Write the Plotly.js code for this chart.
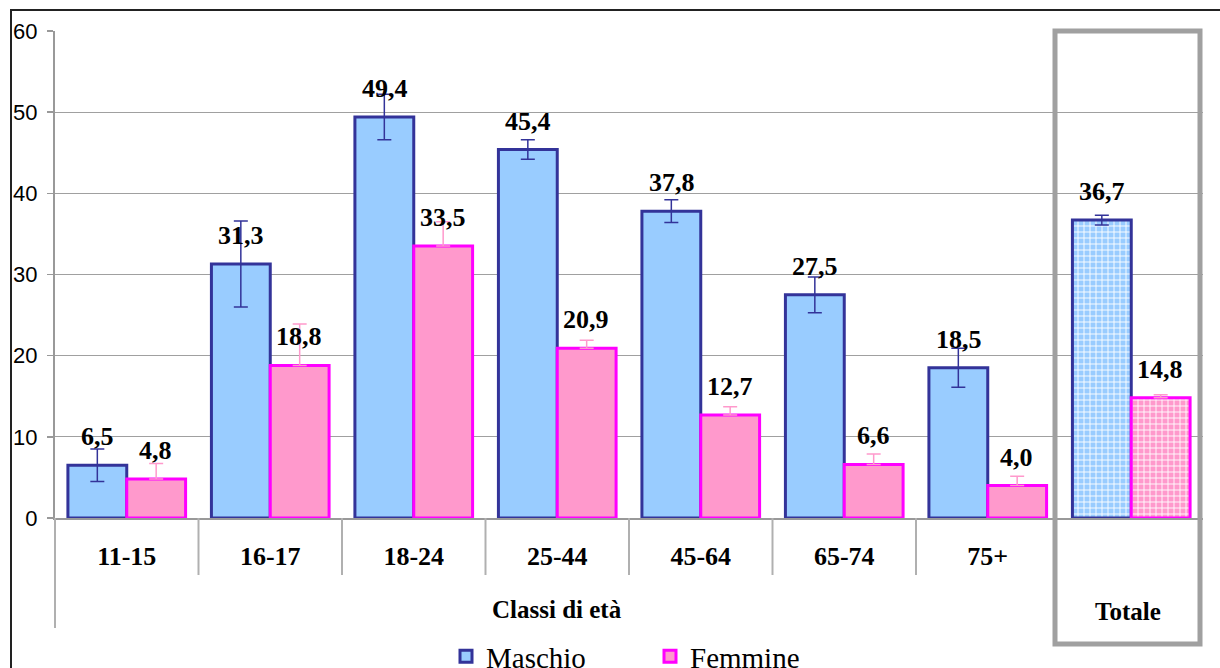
<!DOCTYPE html>
<html>
<head>
<meta charset="utf-8">
<script src="https://cdn.plot.ly/plotly-3.0.1.min.js"></script>
<style>html,body{margin:0;padding:0;background:#fff;}#chart{width:1220px;height:668px;}</style>
</head>
<body>
<div id="chart"></div>
<script>
const categories = ["11-15", "16-17", "18-24", "25-44", "45-64", "65-74", "75+", "Totale"];
const tickLabels = ["11-15", "16-17", "18-24", "25-44", "45-64", "65-74", "75+", ""];
const maschio = [6.5, 31.3, 49.4, 45.4, 37.8, 27.5, 18.5, 36.7];
const femmine = [4.8, 18.8, 33.5, 20.9, 12.7, 6.6, 4.0, 14.8];
const maschioErr = [2.0, 5.3, 2.8, 1.2, 1.4, 2.2, 2.4, 0.6];
const femmineErrUp = [1.9, 5.1, 3.0, 1.0, 1.0, 1.3, 1.15, 0.4];
const femmineErrDown = [0, 0, 0, 0, 0, 0, 0, 0];
const yTicks = [0, 10, 20, 30, 40, 50, 60];

const serif = "Liberation Serif, Times New Roman, serif";
const sans = "Liberation Sans, Arial, sans-serif";

function patternShapes(arr) { return arr.map((_, i) => categories[i] === "Totale" ? "+" : ""); }

const traceM = {
  type: "bar", name: "Maschio", x: categories, y: maschio,
  marker: {
    color: "#99ccff",
    line: {color: "#333399", width: 3},
    pattern: {shape: patternShapes(maschio), fgcolor: "#ffffff", bgcolor: "#99ccff", size: 6, solidity: 0.28, fillmode: "replace"}
  },
  error_y: {type: "data", array: maschioErr, visible: true, color: "#333399", thickness: 1.5, width: 7},
  hoverinfo: "skip"
};
const traceF = {
  type: "bar", name: "Femmine", x: categories, y: femmine,
  marker: {
    color: "#ff99cc",
    line: {color: "#ff00ff", width: 3},
    pattern: {shape: patternShapes(femmine), fgcolor: "#ffffff", bgcolor: "#ff99cc", size: 6, solidity: 0.28, fillmode: "replace"}
  },
  error_y: {type: "data", symmetric: false, array: femmineErrUp, arrayminus: femmineErrDown, visible: true, color: "#ff99cc", thickness: 1.5, width: 7},
  hoverinfo: "skip"
};

const fmt = v => v.toFixed(1).replace(".", ",");
const annotations = [];
categories.forEach((c, i) => {
  annotations.push({x: c, y: maschio[i], xref: "x", yref: "y", text: "<b>" + fmt(maschio[i]) + "</b>", showarrow: false,
    xshift: -29, yshift: 12, yanchor: "bottom", font: {family: serif, size: 26, color: "#000"}});
  annotations.push({x: c, y: femmine[i], xref: "x", yref: "y", text: "<b>" + fmt(femmine[i]) + "</b>", showarrow: false,
    xshift: 29, yshift: 12, yanchor: "bottom", font: {family: serif, size: 26, color: "#000"}});
});
const plotTop = 31, plotBottom = 518, plotH = plotBottom - plotTop;
const plotLeft = 55, plotRight = 1203, plotW = plotRight - plotLeft;
const py = px => (plotBottom - px) / plotH;
const pxx = px => (px - plotLeft) / plotW;
annotations.push({x: pxx(557), y: py(609), xref: "paper", yref: "paper", xanchor: "center", yanchor: "middle",
  text: "<b>Classi di età</b>", showarrow: false, font: {family: serif, size: 25, color: "#000"}});
annotations.push({x: pxx(1128), y: py(611), xref: "paper", yref: "paper", xanchor: "center", yanchor: "middle",
  text: "<b>Totale</b>", showarrow: false, font: {family: serif, size: 25, color: "#000"}});

const shapes = [];
for (let i = 1; i < 7; i++) {
  shapes.push({type: "line", xref: "x", yref: "paper", x0: i - 0.5, x1: i - 0.5, y0: 0, y1: py(575), line: {color: "#b0b0b0", width: 2}});
}
shapes.push({type: "line", xref: "paper", yref: "paper", x0: 0, x1: 0, y0: 0, y1: py(628), line: {color: "#b0b0b0", width: 2}});
shapes.push({type: "rect", xref: "paper", yref: "paper", x0: pxx(11), x1: pxx(1240), y0: py(700), y1: py(10), line: {color: "#222", width: 2}, layer: "below"});
shapes.push({type: "rect", xref: "paper", yref: "paper", x0: pxx(1055), x1: pxx(1200), y0: py(644), y1: py(31), line: {color: "#a0a0a0", width: 5}, layer: "above"});

const layout = {
  width: 1220, height: 668,
  margin: {l: plotLeft, r: 1220 - plotRight, t: plotTop, b: 668 - plotBottom, autoexpand: false},
  paper_bgcolor: "#fff", plot_bgcolor: "#fff",
  barmode: "group", bargap: 0.18, bargroupgap: 0,
  showlegend: true,
  legend: {orientation: "h", x: pxx(446), xanchor: "left", y: py(631), yanchor: "top",
    font: {family: serif, size: 29, color: "#000"}, itemwidth: 30, entrywidth: 159, entrywidthmode: "pixels", traceorder: "normal",
    bgcolor: "rgba(0,0,0,0)"},
  xaxis: {
    type: "category", categoryorder: "array", categoryarray: categories,
    tickvals: categories, ticktext: tickLabels.map(t => t ? "<b>" + t + "</b>" : ""),
    showline: true, linecolor: "#999", linewidth: 2,
    ticks: "", showgrid: false, zeroline: false,
    tickfont: {family: serif, size: 26, color: "#000"},
    ticklabelstandoff: 14,
    range: [-0.5, 7.5]
  },
  yaxis: {
    range: [0, 60], tickvals: yTicks, ticktext: yTicks.map(String),
    showline: true, linecolor: "#999", linewidth: 2,
    ticks: "outside", ticklen: 6, tickcolor: "#999", tickwidth: 1.5,
    showgrid: true, gridcolor: "#a0a0a0", gridwidth: 1, zeroline: false,
    tickfont: {family: sans, size: 22, color: "#000"},
    ticklabelstandoff: 5
  },
  annotations: annotations,
  shapes: shapes
};

Plotly.newPlot("chart", [traceM, traceF], layout, {displayModeBar: false, staticPlot: true});
</script>
</body>
</html>
